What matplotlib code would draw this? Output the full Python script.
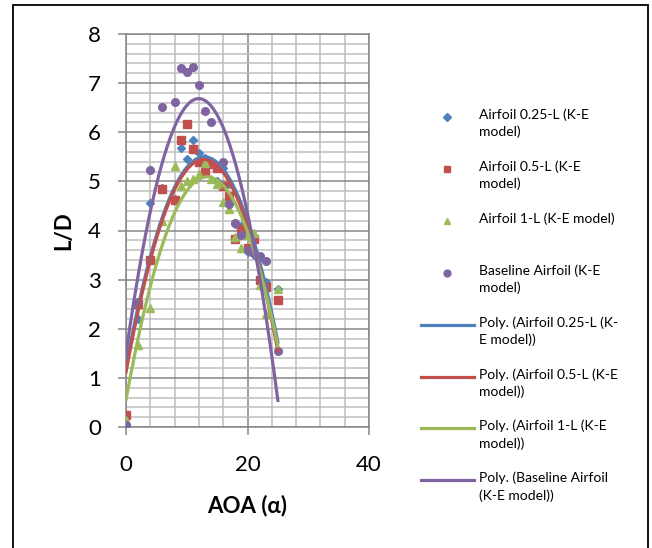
import numpy as np
import matplotlib.pyplot as plt
from matplotlib.lines import Line2D
from matplotlib.patches import Rectangle
from matplotlib.ticker import MultipleLocator

plt.rcParams['font.family'] = ['Lato', 'DejaVu Sans']

# angle of attack (deg)
aoa = [0, 2, 4, 6, 8, 9, 10, 11, 12, 13, 14, 15, 16, 17, 18, 19, 20, 21, 22, 23, 25]

ld_025 = [0.20, 2.20, 4.55, 4.87, 4.65, 5.68, 5.45, 5.84, 5.57, 5.48, 5.40, 5.00,
          5.27, 4.95, 4.14, 4.10, 3.57, 3.50, 3.45, 2.95, 2.80]
ld_05 = [0.25, 2.50, 3.39, 4.84, 4.63, 5.85, 6.16, 5.65, 5.40, 5.21, 5.35, 5.27,
         4.90, 4.70, 3.82, 4.04, 3.64, 3.83, 3.00, 2.84, 2.59]
ld_1 = [0.15, 1.66, 2.42, 4.19, 5.31, 4.90, 5.00, 5.04, 5.15, 5.38, 5.05, 4.95,
        4.58, 4.43, 3.87, 3.64, 3.90, 3.95, 2.89, 2.31, 2.80]

aoa_base = [0, 2, 4, 6, 8, 9, 10, 11, 12, 13, 14, 16, 17, 18, 19, 20, 21, 22, 23, 25]
ld_base = [0.05, 2.55, 5.24, 6.52, 6.62, 7.31, 7.23, 7.33, 6.97, 6.43, 6.21, 5.39,
           4.53, 4.15, 3.90, 3.60, 3.55, 3.49, 3.37, 1.55]

labels = ['Airfoil 0.25-L (K-E\nmodel)', 'Airfoil 0.5-L (K-E\nmodel)',
          'Airfoil 1-L (K-E model)', 'Baseline Airfoil (K-E\nmodel)']
trend_labels = ['Poly. (Airfoil 0.25-L (K-\nE model))', 'Poly. (Airfoil 0.5-L (K-E\nmodel))',
                'Poly. (Airfoil 1-L (K-E\nmodel))', 'Poly. (Baseline Airfoil\n(K-E model))']

colors = ['#4F81BD', '#C0504D', '#9BBB59', '#8064A2']
markers = ['D', 's', '^', 'o']
msizes = [4.5, 5.5, 5.5, 5.5]

series = [(aoa, ld_025), (aoa, ld_05), (aoa, ld_1), (aoa_base, ld_base)]

fig = plt.figure(figsize=(6.52, 5.48), dpi=100)
ax = fig.add_axes([126 / 652, 1 - 427 / 548, 243 / 652, 393 / 548])

for (x, y), c, m, ms in zip(series, colors, markers, msizes):
    ax.plot(x, y, ls='none', marker=m, color=c, ms=ms, mec=c, zorder=3)

# 2nd order polynomial trendlines like Excel
xx = np.linspace(0, 25, 200)
for (x, y), c in zip(series, colors):
    p = np.polyfit(x, y, 2)
    ax.plot(xx, np.polyval(p, xx), color=c, lw=2.3, zorder=4)

ax.set_xlim(0, 40)
ax.set_ylim(0, 8)
ax.xaxis.set_major_locator(MultipleLocator(20))
ax.xaxis.set_minor_locator(MultipleLocator(4))
ax.yaxis.set_major_locator(MultipleLocator(1))
ax.yaxis.set_minor_locator(MultipleLocator(0.2))
ax.grid(which='major', color='#868686', lw=1.1, zorder=1)
ax.grid(which='minor', color='#BFBFBF', lw=1.1, zorder=0)
ax.set_axisbelow(True)
for s in ax.spines.values():
    s.set_color('#868686')
    s.set_linewidth(1.1)
ax.tick_params(which='major', length=6, color='#868686', labelsize=16, width=1.1)
ax.tick_params(axis='y', pad=12)
ax.tick_params(axis='x', pad=14)
ax.tick_params(which='minor', length=0)

ax.set_xlabel('AOA (α)', fontsize=16, fontweight='bold', labelpad=14)
ax.set_ylabel('L/D', fontsize=16, fontweight='bold', labelpad=10)

# legend drawn by hand so markers line up with the first text row
W, H = 652, 548
for i in range(8):
    y0 = 117 + i * 51.9
    c = colors[i % 4]
    if i < 4:
        fig.add_artist(Line2D([447 / W], [1 - y0 / H], marker=markers[i], color=c,
                              ms=msizes[i] * 0.9, ls='none', transform=fig.transFigure))
        txt = labels[i]
    else:
        fig.add_artist(Line2D([421 / W, 474 / W], [1 - y0 / H] * 2, color=c, lw=2.3,
                              transform=fig.transFigure))
        txt = trend_labels[i - 4]
    fig.text(479 / W, 1 - (y0 - 8.5) / H, txt, fontsize=10, va='top', ha='left',
             linespacing=1.45)

fig.add_artist(Rectangle((13 / W, -0.05), 635 / W, 1.05 - 5 / H, fill=False,
                         ec='black', lw=1.3, transform=fig.transFigure))

fig.savefig('out.png', dpi=100)
